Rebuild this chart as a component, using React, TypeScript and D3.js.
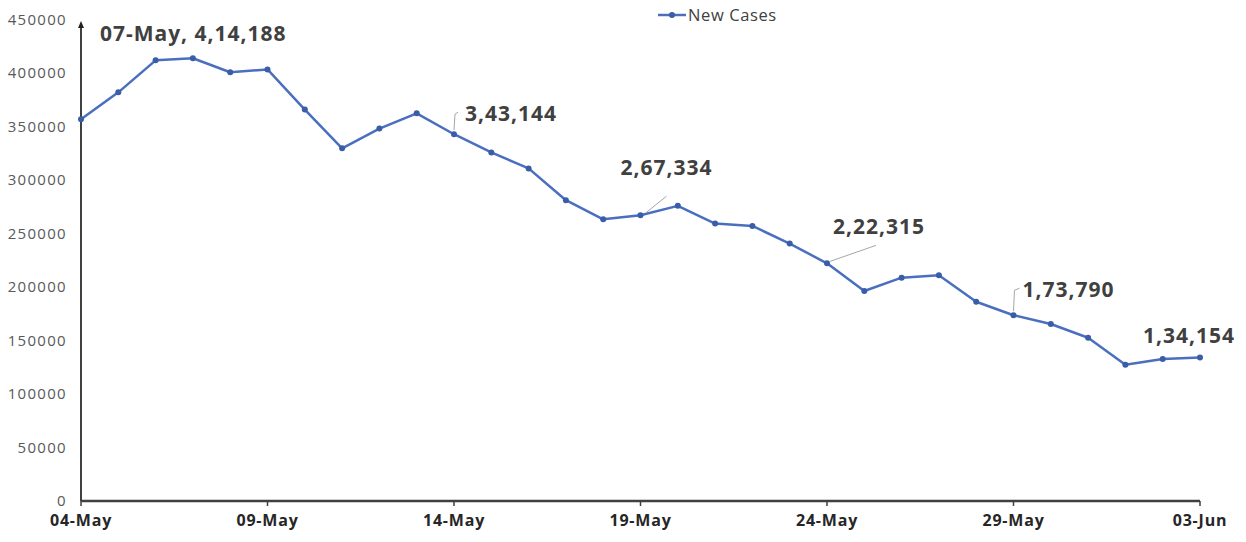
import React from "react";
import * as d3 from "d3";

const dates = ["04-May","05-May","06-May","07-May","08-May","09-May","10-May","11-May","12-May","13-May","14-May","15-May","16-May","17-May","18-May","19-May","20-May","21-May","22-May","23-May","24-May","25-May","26-May","27-May","28-May","29-May","30-May","31-May","01-Jun","02-Jun","03-Jun"];
const newCases = [357229,382315,412262,414188,401078,403738,366161,329942,348421,362727,343144,326098,311170,281386,263533,267334,276110,259551,257299,240842,222315,196427,208921,211298,186364,173790,165553,152734,127510,132788,134154];
const xTickLabels = ["04-May","09-May","14-May","19-May","24-May","29-May","03-Jun"];
const yTicks = [0,50000,100000,150000,200000,250000,300000,350000,400000,450000];
const seriesName = "New Cases";
// annotations: index, label, label offset (dx, dy) and leader polyline
const annotations = [
  { i: 3, text: "07-May, 4,14,188", dx: -93, dy: -17, leader: null as null | number[][] },
  { i: 10, text: "3,43,144", dx: 11, dy: -13, leader: [[0, -4], [1, -20], [4, -22]] },
  { i: 15, text: "2,67,334", dx: -20, dy: -40, leader: [[6, -3], [26, -19]] },
  { i: 20, text: "2,22,315", dx: 6, dy: -29, leader: [[3, -2], [49, -18]] },
  { i: 25, text: "1,73,790", dx: 9, dy: -18, leader: [[0, -4], [1, -25], [6, -27]] },
  { i: 30, text: "1,34,154", dx: -57, dy: -15, leader: null },
];

export default function App() {
  const W = 1246, H = 542;
  const x0 = 81, x1 = 1200, yBottom = 501, yTop = 20;
  const x = d3.scaleLinear().domain([0, dates.length - 1]).range([x0, x1]);
  const y = d3.scaleLinear().domain([0, 450000]).range([yBottom, yTop]);
  const line = d3.line<number>().x((_, i) => x(i)).y(d => y(d));
  const font = "'Open Sans', Lato, sans-serif";
  const blue = "#4a6fbf";
  return (
    <svg width={W} height={H} style={{ position: "absolute", left: 0, top: 0, background: "#fff" }}>
      <rect width={W} height={H} fill="#fff" />
      {/* y tick labels */}
      {yTicks.map(t => (
        <text key={t} x={67} y={y(t) + 5} textAnchor="end" fontFamily={font} fontSize={15} letterSpacing={1.3} fill="#595959">{t}</text>
      ))}
      {/* y axis with arrow */}
      <line x1={x0} x2={x0} y1={yBottom} y2={yTop + 4} stroke="#404040" strokeWidth={2} />
      <path d={`M${x0 - 3},${yTop + 8} L${x0},${yTop + 1} L${x0 + 3},${yTop + 8} Z`} fill="#222" />
      {/* x axis */}
      <line x1={x0} x2={x1} y1={yBottom} y2={yBottom} stroke="#404040" strokeWidth={2.5} />
      {xTickLabels.map(lbl => {
        const i = dates.indexOf(lbl);
        return (
          <g key={lbl}>
            <line x1={x(i)} x2={x(i)} y1={yBottom} y2={yBottom + 5} stroke="#404040" strokeWidth={1.5} />
            <text x={x(i)} y={yBottom + 25} textAnchor="middle" fontFamily={font} fontWeight="bold" fontSize={16} letterSpacing={0.8} fill="#262626">{lbl}</text>
          </g>
        );
      })}
      {/* line */}
      <path d={line(newCases) || ""} fill="none" stroke={blue} strokeWidth={2.5} strokeLinejoin="round" />
      {newCases.map((v, i) => (
        <circle key={i} cx={x(i)} cy={y(v)} r={3} fill="#3a5da8" />
      ))}
      {/* annotations */}
      {annotations.map(a => {
        const px = x(a.i), py = y(newCases[a.i]);
        return (
          <g key={a.i}>
            {a.leader && (
              <polyline points={a.leader.map(p => `${px + p[0]},${py + p[1]}`).join(" ")} fill="none" stroke="#a6a6a6" strokeWidth={1} />
            )}
            <text x={px + a.dx} y={py + a.dy} fontFamily={font} fontWeight="bold" fontSize={21} letterSpacing={1} fill="#404040">{a.text}</text>
          </g>
        );
      })}
      {/* legend */}
      <line x1={658} x2={686} y1={15} y2={15} stroke={blue} strokeWidth={2.5} />
      <circle cx={672} cy={15} r={3} fill="#3a5da8" />
      <text x={688} y={21} fontFamily={font} fontSize={16.5} letterSpacing={0.6} fill="#404040">{seriesName}</text>
    </svg>
  );
}
